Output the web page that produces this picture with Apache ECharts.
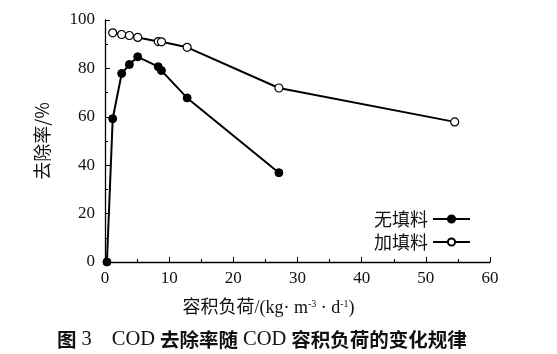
<!DOCTYPE html>
<html>
<head>
<meta charset="utf-8">
<script src="https://cdn.jsdelivr.net/npm/echarts@6/dist/echarts.min.js"></script>
<style>
  html, body { margin: 0; padding: 0; background: #fff; }
  #chart { width: 557px; height: 354px; }
</style>
</head>
<body>
<div id="chart"></div>
<script>
// 数据
var seriesNames = ['无填料', '加填料'];
var loadNoFill = [0.3, 1.2, 2.6, 3.8, 5.1, 8.3, 8.8, 12.8, 27.1];
var rateNoFill = [0, 59.2, 77.9, 81.6, 84.8, 80.7, 79.1, 67.8, 36.9];
var loadFill = [1.2, 2.6, 3.8, 5.1, 8.3, 8.8, 12.8, 27.1, 54.5];
var rateFill = [94.7, 94.0, 93.6, 92.8, 91.1, 91.0, 88.7, 71.9, 57.9];
var xTicks = [0, 10, 20, 30, 40, 50, 60];
var yTicks = [0, 20, 40, 60, 80, 100];

var serif = '"Liberation Serif", "Noto Sans CJK SC", serif';
var cjk = '"Noto Sans CJK SC", sans-serif';

function pairs(xs, ys) {
    return xs.map(function(x, i) { return [x, ys[i]]; });
}

var chart = echarts.init(document.getElementById('chart'));

var option = {
    animation: false,
    backgroundColor: '#fff',
    title: {
        text: '{h|图} {s|3}    {s|COD} {h|去除率随} {s|COD} {h|容积负荷的变化规律}',
        left: 52,
        top: 324,
        textStyle: {
            rich: {
                h: { fontFamily: cjk, fontSize: 19.5, fontWeight: 'bold', color: '#111' },
                s: { fontFamily: serif, fontSize: 20.5, fontWeight: 'normal', color: '#111' }
            }
        }
    },
    grid: { left: 105, right: 67, top: 20, bottom: 92 },
    legend: {
        orient: 'vertical',
        right: 81,
        top: 205,
        align: 'right',
        itemWidth: 37,
        itemHeight: 9,
        itemGap: 5,
        textStyle: { fontFamily: cjk, fontSize: 18, color: '#111' },
        data: seriesNames
    },
    xAxis: {
        type: 'value',
        min: 0,
        max: 60,
        interval: 10,
        name: '容积负荷/(kg· m{sup|-3} · d{sup|-1})',
        nameLocation: 'middle',
        nameGap: 37,
        nameTextStyle: {
            fontFamily: serif, fontSize: 18, color: '#111',
            padding: [0, 58, 0, 0],
            rich: { sup: { fontFamily: serif, fontSize: 10, verticalAlign: 'top', padding: [0, 0, 9, 0], color: '#111' } }
        },
        axisLine: { lineStyle: { color: '#000', width: 1.3 } },
        axisTick: { inside: true, length: 5, lineStyle: { color: '#000' } },
        minorTick: { show: true, splitNumber: 2, length: 3, lineStyle: { color: '#000' } },
        splitLine: { show: false },
        axisLabel: {
            fontFamily: serif, fontSize: 17, color: '#111', margin: 8,
            formatter: function(v) { return xTicks.indexOf(v) >= 0 ? String(v) : ''; }
        }
    },
    yAxis: {
        type: 'value',
        min: 0,
        max: 100,
        interval: 20,
        name: '去除率/%',
        nameLocation: 'middle',
        nameGap: 54,
        nameTextStyle: { fontFamily: cjk, fontSize: 18, color: '#111' },
        axisLine: { show: true, lineStyle: { color: '#000', width: 1.3 } },
        axisTick: { show: true, inside: true, length: 5, lineStyle: { color: '#000' } },
        minorTick: { show: true, splitNumber: 2, length: 3, lineStyle: { color: '#000' } },
        splitLine: { show: false },
        axisLabel: {
            fontFamily: serif, fontSize: 17, color: '#111', margin: 10,
            formatter: function(v) { return yTicks.indexOf(v) >= 0 ? String(v) : ''; }
        }
    },
    series: [
        {
            name: seriesNames[0],
            type: 'line',
            data: pairs(loadNoFill, rateNoFill),
            symbol: 'circle',
            symbolSize: 8,
            lineStyle: { color: '#000', width: 2 },
            itemStyle: { color: '#000', borderColor: '#000', borderWidth: 1 }
        },
        {
            name: seriesNames[1],
            type: 'line',
            data: pairs(loadFill, rateFill),
            symbol: 'circle',
            symbolSize: 8,
            lineStyle: { color: '#000', width: 2 },
            itemStyle: { color: '#fff', borderColor: '#000', borderWidth: 1.2 }
        }
    ]
};

chart.setOption(option);
</script>
</body>
</html>
